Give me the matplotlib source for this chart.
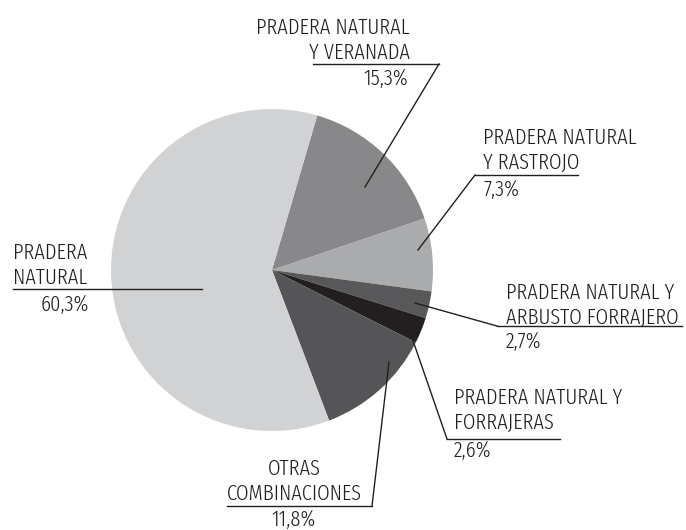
import matplotlib.pyplot as plt
from matplotlib import font_manager

# slices in clockwise order starting at the top
labels = ["PRADERA NATURAL\nY VERANADA", "PRADERA NATURAL\nY RASTROJO",
          "PRADERA NATURAL Y\nARBUSTO FORRAJERO", "PRADERA NATURAL Y\nFORRAJERAS",
          "OTRAS\nCOMBINACIONES", "PRADERA\nNATURAL"]
values = [15.3, 7.3, 2.7, 2.6, 11.8, 60.3]
pct_text = ["15,3%", "7,3%", "2,7%", "2,6%", "11,8%", "60,3%"]
colors = ["#88888b", "#aaabad", "#58585a", "#231f20", "#555557", "#d1d2d4"]

W, H = 686, 530


def narrowness(f):
    s = str(f.stretch).lower() + " " + f.name.lower() + " " + f.fname.lower()
    if 'extra' in s and 'condensed' in s or 'extracondensed' in s:
        return 3
    if 'semi' in s and 'condensed' in s or 'semicondensed' in s:
        return 1
    if 'condensed' in s or 'narrow' in s:
        return 2
    return 0


def weight_num(f):
    w = f.weight
    if isinstance(w, str):
        w = {'light': 300, 'normal': 400, 'regular': 400}.get(w.lower(), 500)
    return w


# narrowest face available, thin strokes preferred; otherwise Roboto
cands = [f for f in font_manager.fontManager.ttflist
         if f.style == 'normal' and weight_num(f) in (300, 400)
         and 'italic' not in f.fname.lower() and narrowness(f) > 0]
cands.sort(key=lambda f: (narrowness(f), -weight_num(f)), reverse=True)
if cands:
    font = font_manager.FontProperties(fname=cands[0].fname)
else:
    font = font_manager.FontProperties(family='Roboto')

fig = plt.figure(figsize=(W / 100, H / 100), dpi=100)
ax = fig.add_axes([0, 0, 1, 1])

cx, cy, r = 272, H - 270, 161
ax.pie(values, colors=colors, startangle=73.7, counterclock=False,
       center=(cx, cy), radius=r, frame=True,
       wedgeprops=dict(linewidth=0))
ax.set_xlim(0, W)
ax.set_ylim(0, H)
ax.set_aspect('equal')
ax.axis('off')

# scale the font so "PRADERA NATURAL" is about 153 px wide, as in the reference
probe = ax.text(0, 0, "PRADERA NATURAL", fontproperties=font, fontsize=13)
fig.canvas.draw()
wpx = probe.get_window_extent().width
probe.remove()
fs = 13 * 153 / wpx
probe = ax.text(0, 0, "lp", fontproperties=font, fontsize=fs)
fig.canvas.draw()
lp = probe.get_window_extent().height
probe.remove()
lsp = 25.5 / lp

# label layout: text anchor, alignment, underline (x0, x1, y), leader end point
layout = [
    dict(x=410, y=40, ha='right', ul=(313, 439, 64), lead=[(439, 64), (365, 187)]),
    dict(x=483, y=150, ha='left', ul=(475, 578, 175), lead=[(475, 175), (418, 250)]),
    dict(x=506, y=305, ha='left', ul=(497, 682, 326), lead=[(497, 326), (415, 303)]),
    dict(x=454, y=410, ha='left', ul=(447, 560, 439), lead=[(447, 439), (410, 332)]),
    dict(x=294, y=481, ha='center', ul=(227, 372, 506), lead=[(372, 506), (389, 362)]),
    dict(x=13, y=265, ha='left', ul=(13, 202, 289), lead=None),
]
pct_pos = [(408, 79, 'right'), (483, 190, 'left'), (506, 342, 'left'),
           (454, 451, 'left'), (294, 520, 'center'), (89, 305, 'right')]

for i, lay in enumerate(layout):
    ax.text(lay['x'], H - lay['y'], labels[i], ha=lay['ha'], va='center',
            multialignment=lay['ha'], fontproperties=font, fontsize=fs,
            color='#231f20', linespacing=lsp)
    px, py, pha = pct_pos[i]
    ax.text(px, H - py, pct_text[i], ha=pha, va='center',
            fontproperties=font, fontsize=fs, color='#231f20')
    x0, x1, yy = lay['ul']
    ax.plot([x0, x1], [H - yy, H - yy], color='#231f20', lw=1)
    if lay['lead']:
        (ax0, ay0), (ax1, ay1) = lay['lead']
        ax.plot([ax0, ax1], [H - ay0, H - ay1], color='#231f20', lw=1)

fig.savefig("out.png", dpi=100)
